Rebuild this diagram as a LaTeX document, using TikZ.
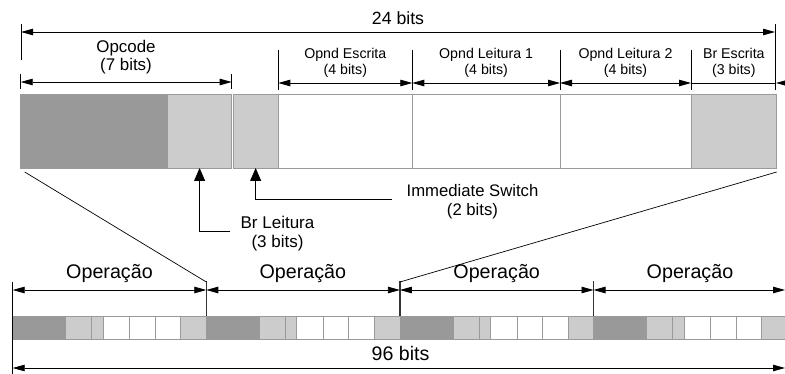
\documentclass[tikz,border=0pt]{standalone}
\usepackage{fontspec}
\setmainfont{Liberation Sans}
\usetikzlibrary{arrows.meta,calc}

\definecolor{cellDark}{HTML}{999999}
\definecolor{cellLight}{HTML}{CCCCCC}
\definecolor{cellEdge}{HTML}{9A9A9A}

\tikzset{
  field/.style={draw=cellEdge, line width=0.9pt, minimum height=74pt,
    inner sep=0pt, outer sep=0pt, anchor=north west},
  slot/.style={draw=cellEdge, line width=0.8pt, minimum height=23pt,
    inner sep=0pt, outer sep=0pt, anchor=north west},
  dim/.style={line width=0.8pt,
    {Triangle[length=12pt,width=6.5pt]}-{Triangle[length=12pt,width=6.5pt]}},
  ext/.style={line width=0.8pt},
  sep/.style={line width=1.5pt, black!80},
  pointer/.style={line width=0.8pt, -{Triangle[length=13pt,width=11pt]}},
  fan/.style={line width=0.7pt},
  lbl/.style={anchor=base, align=center, inner sep=0pt},
}

\begin{document}
\begin{tikzpicture}[x=1pt,y=-1pt]
\clip (0,0) rectangle (785,374);

% ---- 24-bit instruction word ----
\node[field, fill=cellDark,  minimum width=146.8pt] (opA) at (20.7,94) {};
\node[field, fill=cellLight, minimum width=64.2pt]  (brl) at (167.5,94) {};
\node[field, fill=cellLight, minimum width=45.3pt]  (imm) at (233,94) {};
\node[field, fill=white,     minimum width=134pt]   (oe)  at (278.3,94) {};
\node[field, fill=white,     minimum width=147.7pt] (ol1) at (412.3,94) {};
\node[field, fill=white,     minimum width=131pt]   (ol2) at (560,94) {};
\node[field, fill=cellLight, minimum width=85.7pt]  (bre) at (691,94) {};

% overall width
\coordinate (wL) at (21,32);
\coordinate (wR) at (775,32);
\draw[ext] (21,24) -- (21,60);
\draw[ext] (775,24) -- (775,90);
\draw[dim] (wL) -- (wR);
\node[lbl, font=\fontsize{17.7}{20}\selectfont] (w24) at (398,25) {24 bits};

% opcode (multi-line labels sit on the baseline of their last line)
\draw[ext] (opA.north west |- 0,74) -- (opA.north west |- 0,89);
\draw[ext] (brl.north east |- 0,74) -- (brl.north east |- 0,89);
\draw[dim] (opA.north west |- 0,82) -- (brl.north east |- 0,82);
\node[lbl, font=\fontsize{16.9}{18}\selectfont] (opcT) at (126,70.7) {Opcode\\(7 bits)};

% operand and branch fields
\foreach \f in {oe,ol1,ol2,bre}
  \draw[ext] (\f.north west |- 0,50) -- (\f.north west |- 0,90);
\draw[dim] (oe.north west |- 0,83)  -- (oe.north east |- 0,83);
\draw[dim] (ol1.north west |- 0,83) -- (ol1.north east |- 0,83);
\draw[dim] (ol2.north west |- 0,83) -- (ol2.north east |- 0,83);
\coordinate (breIn) at (790,83);
\draw[ext] (bre.north west |- 0,83) -- (775,83);
\draw[line width=0.8pt, -{Triangle[length=12pt,width=6.5pt]}] (breIn) -- (776,83);

\node[lbl, font=\fontsize{14.2}{15.5}\selectfont] (oeT)  at (oe.north  |- 0,74.5) {Opnd Escrita\\(4 bits)};
\node[lbl, font=\fontsize{14.2}{15.5}\selectfont] (ol1T) at (ol1.north |- 0,74.5) {Opnd Leitura 1\\(4 bits)};
\node[lbl, font=\fontsize{14.2}{15.5}\selectfont] (ol2T) at (ol2.north |- 0,74.5) {Opnd Leitura 2\\(4 bits)};
\node[lbl, font=\fontsize{14.2}{15.5}\selectfont] (breT) at (bre.north |- 0,74.5) {Br Escrita\\(3 bits)};

% call-outs below the word
\coordinate (brlTail) at (230,231.7);
\coordinate (immTail) at (392,199);
\draw[pointer] (brlTail) -| (brl.south);
\draw[pointer] (immTail) -| (imm.south);
\node[lbl, font=\fontsize{16.7}{18.5}\selectfont] (immT) at (472.5,215.2) {Immediate Switch\\(2 bits)};
\node[lbl, font=\fontsize{17}{19}\selectfont] (brlT) at (277.5,248) {Br Leitura\\(3 bits)};

% ---- 96-bit bundle of four operations ----
\foreach \g/\gx in {0/12.7,1/206.3,2/399.9,3/593.5}{
  \node[slot, fill=cellDark,  minimum width=53pt]   (s\g a) at (\gx,316) {};
  \node[slot, fill=cellLight, minimum width=26pt]   (s\g b) at (\gx+53,316) {};
  \node[slot, fill=cellLight, minimum width=11.5pt] (s\g c) at (\gx+79,316) {};
  \node[slot, fill=white,     minimum width=26.5pt] (s\g d) at (\gx+90.5,316) {};
  \node[slot, fill=white,     minimum width=25.5pt] (s\g e) at (\gx+117,316) {};
  \node[slot, fill=white,     minimum width=25.5pt] (s\g f) at (\gx+142.5,316) {};
  \node[slot, fill=cellLight, minimum width=25.6pt] (s\g g) at (\gx+168,316) {};
}

% boundaries between operations
\draw[ext] (s0a.north west |- 0,282) -- (s0a.north west |- 0,374);
\foreach \g in {1,2,3}
  \draw[sep] (s\g a.north west |- 0,281) -- (s\g a.north west);

% fan-out from the word to one operation
\draw[fan] ([shift={(4pt,-4pt)}]opA.south west) -- (s1a.north west |- 0,282);
\draw[fan] ([yshift=-4pt]bre.south east) -- (s2a.north west |- 0,282);

% per-operation dimensions
\coordinate (opEnd) at (785,290);
\draw[dim] (s0a.north west |- 0,290) -- (s1a.north west |- 0,290);
\draw[dim] (s1a.north west |- 0,290) -- (s2a.north west |- 0,290);
\draw[dim] (s2a.north west |- 0,290) -- (s3a.north west |- 0,290);
\draw[dim] (s3a.north west |- 0,290) -- (opEnd);
\foreach \g/\cx in {0/109.5,1/302.8,2/496.7,3/690}
  \node[lbl, font=\fontsize{19.7}{22}\selectfont] (opT\g) at (\cx,279) {Operação};

% overall bundle width
\coordinate (bEnd) at (785,368);
\draw[dim] (s0a.north west |- 0,368) -- (bEnd);
\node[lbl, font=\fontsize{19.6}{22}\selectfont] (w96) at (400.5,360.7) {96 bits};
\end{tikzpicture}
\end{document}
